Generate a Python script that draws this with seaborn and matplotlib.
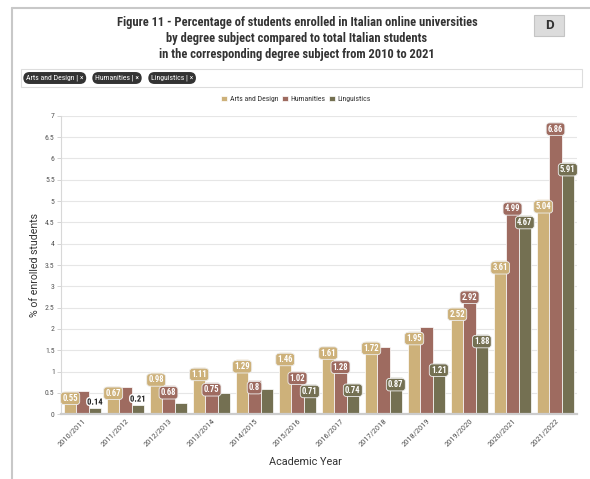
import numpy as np
import pandas as pd
import matplotlib
matplotlib.use("Agg")
import matplotlib.pyplot as plt
import seaborn as sns
from matplotlib import font_manager as fm
from matplotlib.patches import Rectangle
from matplotlib.lines import Line2D
import matplotlib.patheffects as pe

# ---------------------------------------------------------------- data
years = ["2010/2011", "2011/2012", "2012/2013", "2013/2014", "2014/2015",
         "2015/2016", "2016/2017", "2017/2018", "2018/2019", "2019/2020",
         "2020/2021", "2021/2022"]
subjects = ["Arts and Design", "Humanities", "Linguistics"]
arts = [0.55, 0.67, 0.98, 1.11, 1.29, 1.46, 1.61, 1.72, 1.95, 2.52, 3.61, 5.04]
humanities = [0.55, 0.63, 0.68, 0.75, 0.8, 1.02, 1.28, 1.57, 2.04, 2.92, 4.99, 6.86]
linguistics = [0.14, 0.21, 0.26, 0.5, 0.59, 0.71, 0.74, 0.87, 1.21, 1.88, 4.67, 5.91]
# data labels that stay visible (the others are hidden where they would overlap)
arts_labelled = [True] * 12
humanities_labelled = [False, False, True, True, True, True, True, False, False, True, True, True]
linguistics_labelled = [True, True, False, False, False, True, True, True, True, True, True, True]

colors = ["#CDB17A", "#9E6B60", "#747052"]

# ---------------------------------------------------------------- fonts
installed = {f.name for f in fm.fontManager.ttflist}


def pick(cands, default):
    for c in cands:
        if c in installed:
            return c
    return default


narrow = pick(["Roboto Condensed", "Liberation Sans Narrow", "Open Sans Condensed",
               "DejaVu Sans Condensed"], None)
stretch = "normal"
if narrow is None:
    path = fm.findfont(fm.FontProperties(family="DejaVu Sans", stretch="condensed"))
    if "Condensed" in path:
        narrow, stretch = "DejaVu Sans", "condensed"
    else:
        narrow = "Roboto"
NARROW = [narrow, "DejaVu Sans"]
REG = ["Roboto", "DejaVu Sans"]

sns.set_theme(style="white")
plt.rcParams["font.family"] = REG

# ---------------------------------------------------------------- chart
df = pd.DataFrame({
    "year": years * 3,
    "subject": np.repeat(subjects, len(years)),
    "value": arts + humanities + linguistics,
})

fig = plt.figure(figsize=(5.9, 4.79), dpi=100)
W, H = 590.0, 479.0
ax = fig.add_axes([61 / W, 1 - 414.3 / H, (577 - 61) / W, (414.3 - 115.7) / H])

sns.barplot(data=df, x="year", y="value", hue="subject", hue_order=subjects,
            palette=colors, saturation=1, width=0.86, edgecolor="white",
            linewidth=0.5, ax=ax)

handles, labels = ax.get_legend_handles_labels()
ax.get_legend().remove()

ax.set_ylim(0, 7)
ax.set_yticks(np.arange(0, 7.01, 0.5))
ax.set_yticklabels([f"{t:g}" for t in np.arange(0, 7.01, 0.5)])
ax.yaxis.grid(True, color="#e6e6e6", lw=0.8)
ax.set_axisbelow(True)
for s in ["top", "right"]:
    ax.spines[s].set_visible(False)
ax.spines["left"].set_color("#d8d8d8")
ax.spines["left"].set_linewidth(0.8)
ax.spines["bottom"].set_color("#cccccc")
ax.spines["bottom"].set_linewidth(1.6)
ax.tick_params(axis="y", length=3, width=0.6, color="#cccccc", labelsize=5.6,
               labelcolor="#555555", pad=1.5, left=True)
ax.tick_params(axis="x", length=0, labelsize=6, labelcolor="#555555", pad=2.5)
plt.setp(ax.get_xticklabels(), rotation=45, ha="right", rotation_mode="anchor",
         family=NARROW, stretch=stretch)
plt.setp(ax.get_yticklabels(), family=NARROW, stretch=stretch)

ax.set_ylabel("% of enrolled students", fontsize=7.6, color="#333333")
ax.yaxis.label.set_va("center")
ax.yaxis.set_label_coords((35 - 61) / 516, 0.5)
ax.set_xlabel("Academic Year", fontsize=7.8, color="#333333")
ax.xaxis.label.set_va("center")
ax.xaxis.set_label_coords((305 - 61) / 516, (414.3 - 462) / 298.6)

# ---------------------------------------------------------------- data labels
series = [arts, humanities, linguistics]
shown = [arts_labelled, humanities_labelled, linguistics_labelled]
for k, cont in enumerate(ax.containers):
    for j, bar in enumerate(cont.patches):
        if not shown[k][j]:
            continue
        v = series[k][j]
        cx = bar.get_x() + bar.get_width() / 2
        txt = f"{v:g}"
        if v < 0.3:
            ax.annotate(txt, xy=(cx, v), xytext=(0, 4.5), textcoords="offset points",
                        ha="center", va="center", fontsize=6.2, fontweight="bold",
                        family=NARROW, stretch=stretch, color="#222222",
                        path_effects=[pe.withStroke(linewidth=2, foreground="white")],
                        zorder=5)
        else:
            ax.annotate(txt, xy=(cx, v), xytext=(0, -5.4), textcoords="offset points",
                        ha="center", va="center", fontsize=6.2, fontweight="bold",
                        family=NARROW, stretch=stretch, color="white",
                        bbox=dict(boxstyle="round,pad=0.2,rounding_size=0.35",
                                  fc=colors[k], ec="#eeeeee", lw=0.6),
                        zorder=5)

# ---------------------------------------------------------------- legend
fig.legend(handles, labels, loc="center", bbox_to_anchor=(296 / W, 1 - 99 / H),
           ncol=3, frameon=False, prop=dict(family=NARROW, stretch=stretch, size=5.6),
           labelcolor="#333333", handlelength=0.75, handleheight=0.75,
           handletextpad=0.3, columnspacing=0.5, borderaxespad=0)

# ---------------------------------------------------------------- title & page furniture
fig.text(297 / W, 1 - 38.5 / H,
         "Figure 11 - Percentage of students enrolled in Italian online universities\n"
         "by degree subject compared to total Italian students\n"
         "in the corresponding degree subject from 2010 to 2021",
         ha="center", va="center", fontsize=9, fontweight="bold", color="#333333",
         family=NARROW, stretch=stretch, linespacing=1.3)

tf = fig.transFigure
fig.add_artist(Line2D([12 / W, 12 / W], [0, 1 - 8 / H], color="#c8c8c8", lw=1.5, transform=tf))
fig.add_artist(Line2D([12 / W, 1], [1 - 8 / H, 1 - 8 / H], color="#c8c8c8", lw=1.5, transform=tf))

fig.add_artist(Rectangle((534 / W, 1 - 36 / H), 30 / W, 21 / H, transform=tf,
                         fc="#dcdcdc", ec="#c4c4c4", lw=0.8))
fig.text(549 / W, 1 - 25.5 / H, "D", ha="center", va="center", fontsize=9.5,
         fontweight="bold", color="#333333", family=REG)

fig.add_artist(Rectangle((21 / W, 1 - 87 / H), (582 - 21) / W, 18 / H, transform=tf,
                         fc="white", ec="#dddddd", lw=0.8))
chip_x = [26, 95, 151]
for x0, name in zip(chip_x, subjects):
    fig.text(x0 / W, 1 - 78 / H, f"{name} | \u00d7", ha="left", va="center",
             fontsize=5.6, color="white", family=NARROW, stretch=stretch,
             bbox=dict(boxstyle="round,pad=0.35,rounding_size=0.8", fc="#333333",
                       ec="none"))

fig.savefig("out.png", dpi=100)
